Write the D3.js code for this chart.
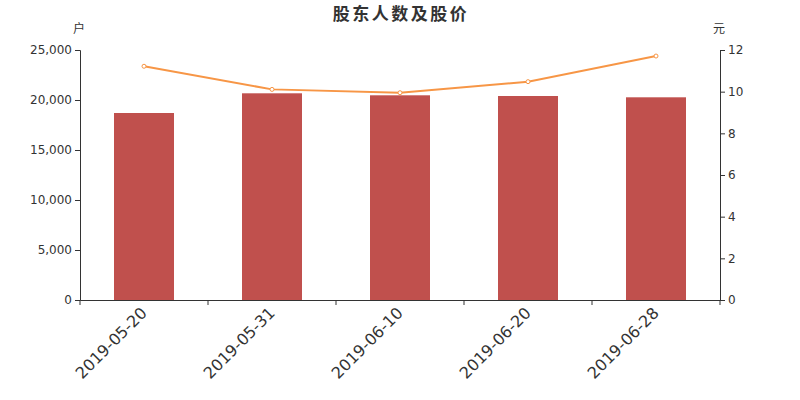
<!DOCTYPE html>
<html><head><meta charset="utf-8">
<script src="https://cdn.jsdelivr.net/npm/d3@7"></script>
<style>body{margin:0;background:#fff}</style>
</head><body><svg id="c" width="800" height="400"></svg>
<script>
const categories = ["2019-05-20","2019-05-31","2019-06-10","2019-06-20","2019-06-28"];
const holders = [18700, 20670, 20470, 20400, 20270];
const prices = [11.22, 10.11, 9.95, 10.48, 11.71];
const leftTicks = [0,5000,10000,15000,20000,25000];
const rightTicks = [0,2,4,6,8,10,12];
const title = "股东人数及股价";

const svg = d3.select("#c");
const m = {l:80, r:720, t:50, b:300};
const x = d3.scaleBand().domain(categories).range([m.l, m.r]);
const yL = d3.scaleLinear().domain([0,25000]).range([m.b, m.t]);
const yR = d3.scaleLinear().domain([0,12]).range([m.b, m.t]);
const font = "DejaVu Sans, sans-serif";
const cjk = "'Noto Sans CJK SC', sans-serif";

svg.append("text").attr("x",401).attr("y",20).attr("text-anchor","middle")
  .attr("font-family",cjk).attr("font-weight","bold").attr("font-size",17)
  .attr("letter-spacing","2.5px").attr("fill","#333").text(title);
svg.append("text").attr("x",79).attr("y",33).attr("text-anchor","middle")
  .attr("font-family",cjk).attr("font-size",12).attr("fill","#333").text("户");
svg.append("text").attr("x",719).attr("y",33).attr("text-anchor","middle")
  .attr("font-family",cjk).attr("font-size",12).attr("fill","#333").text("元");

// bars
const bw = 60;
svg.append("g").selectAll("rect").data(categories).join("rect")
  .attr("x", (d)=>x(d)+x.bandwidth()/2-bw/2)
  .attr("y", (d,i)=>yL(holders[i]))
  .attr("width", bw)
  .attr("height", (d,i)=>m.b-yL(holders[i]))
  .attr("fill","#c0504d");

// axes
function styleAxis(g){
  g.selectAll("path,line").attr("stroke","#333");
  g.selectAll("text").attr("fill","#333").attr("font-family",font);
}
const gl = svg.append("g").attr("transform",`translate(${m.l},0)`)
  .call(d3.axisLeft(yL).tickValues(leftTicks).tickFormat(d3.format(",")).tickSizeOuter(0).tickSize(5).tickPadding(3));
gl.selectAll("text").attr("font-size",12);
styleAxis(gl);
const gr = svg.append("g").attr("transform",`translate(${m.r},0)`)
  .call(d3.axisRight(yR).tickValues(rightTicks).tickFormat(d3.format("d")).tickSizeOuter(0).tickSize(5).tickPadding(3));
gr.selectAll("text").attr("font-size",12);
styleAxis(gr);

const gx = svg.append("g").attr("transform",`translate(0,${m.b})`)
  .call(d3.axisBottom(x).tickSize(0).tickSizeOuter(0));
gx.selectAll(".tick text")
  .attr("font-size",16).attr("text-anchor","end")
  .attr("dx",0).attr("dy",0).attr("y",0).attr("x",0)
  .attr("transform","translate(4,14) rotate(-45)");
styleAxis(gx);
// boundary ticks
const bounds = categories.map(d=>x(d)).concat([m.r]);
svg.append("g").selectAll("line").data(bounds).join("line")
  .attr("x1",d=>d).attr("x2",d=>d).attr("y1",m.b).attr("y2",m.b+5).attr("stroke","#333");

// line
const line = d3.line().x((d,i)=>x(categories[i])+x.bandwidth()/2).y(d=>yR(d));
svg.append("path").datum(prices).attr("d",line).attr("fill","none")
  .attr("stroke","#f79646").attr("stroke-width",2);
svg.append("g").selectAll("circle").data(prices).join("circle")
  .attr("cx",(d,i)=>x(categories[i])+x.bandwidth()/2).attr("cy",d=>yR(d)).attr("r",2)
  .attr("fill","#fff").attr("stroke","#f79646").attr("stroke-width",1);
</script></body></html>
